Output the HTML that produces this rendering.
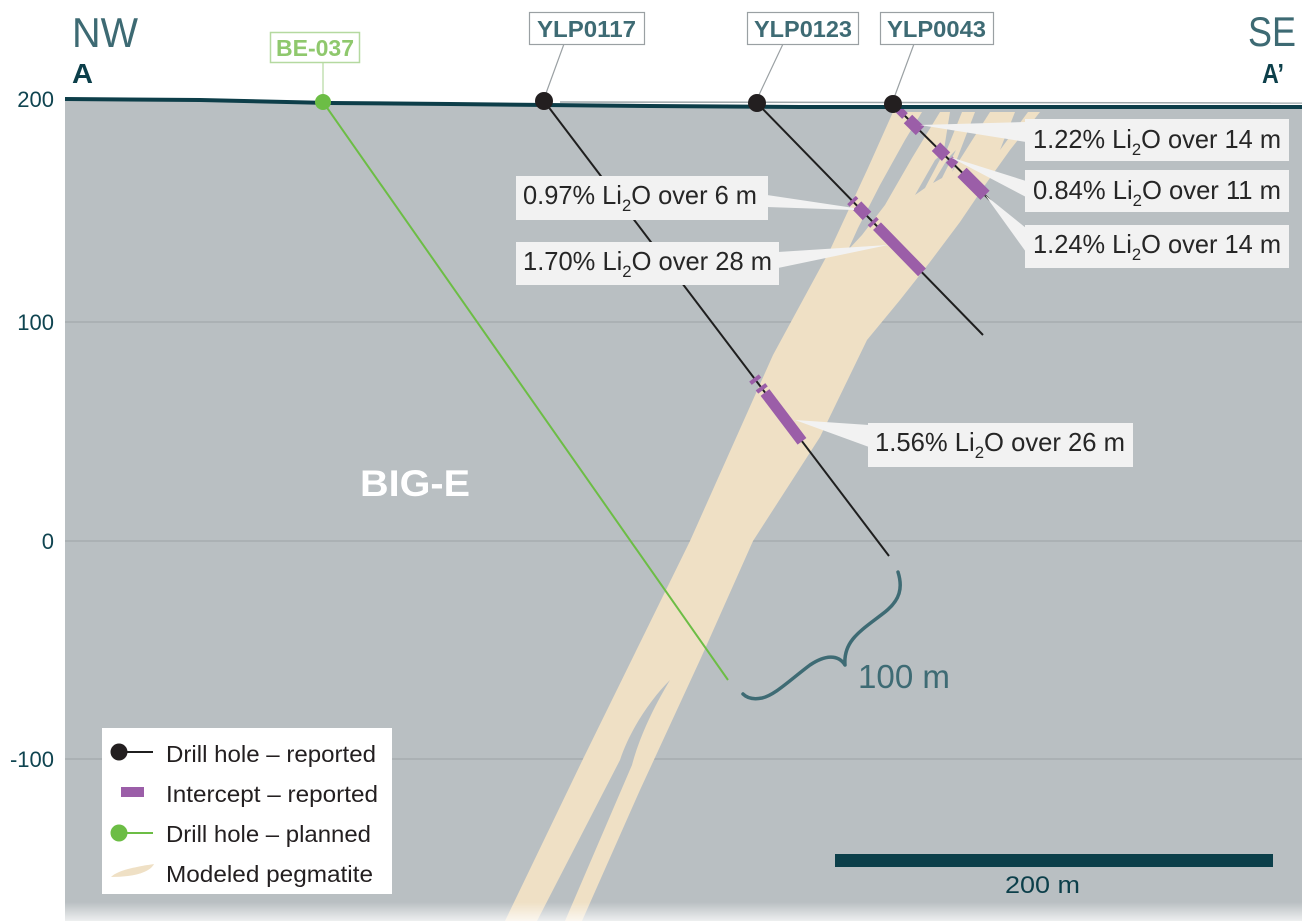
<!DOCTYPE html>
<html><head><meta charset="utf-8">
<style>
html,body{margin:0;padding:0;background:#fff;}
svg{display:block;}
text{font-family:"Liberation Sans",sans-serif;}
</style></head>
<body>
<svg width="1302" height="921" viewBox="0 0 1302 921" xmlns="http://www.w3.org/2000/svg">
<defs>
<linearGradient id="fade" gradientUnits="userSpaceOnUse" x1="0" y1="902" x2="0" y2="921">
<stop offset="0" stop-color="#ffffff" stop-opacity="0"/>
<stop offset="1" stop-color="#ffffff" stop-opacity="0.75"/>
</linearGradient>
</defs>
<rect width="1302" height="921" fill="#ffffff"/>
<path d="M65,99 L200,100 L330,103 L450,104 L650,106 L800,107 L1302,107 L1302,921 L65,921 Z" fill="#b9bfc2"/>
<g stroke="#a3a9ac" stroke-width="1.2">
<line x1="65" y1="322" x2="1302" y2="322"/>
<line x1="65" y1="541" x2="1302" y2="541"/>
<line x1="65" y1="759" x2="1302" y2="759"/>
</g>
<path d="M505,921 L583,759 L690,541 L773,355 L830,250 L868,168 L893,112 L1040,112 L1010,150 L985,185 L960,222 L930,262 L900,300 L867,340 L820,437 L753,541 L700,660 L640,790 L582,921 Z" fill="#efe0c5"/>
<g fill="#b9bfc2">
<path d="M670,680 C650,700 630,730 620,760 L537,921 L565,921 L632,765 C640,735 655,705 670,680 Z"/>
<path d="M848,250 L858,228 L880,185 L905,140 L922,112 L940,112 L912,158 L885,205 L862,235 Z"/>
<path d="M915,195 L935,160 L944,152 L925,188 Z"/>
<path d="M933,183 L948,158 L956,150 L942,178 Z"/>
<path d="M950,112 L962,112 L942,162 Z"/>
<path d="M975,112 L990,112 L952,172 Z"/>
<path d="M1015,112 L1028,112 L1000,150 Z"/>
</g>
<rect x="65" y="902" width="1237" height="19" fill="url(#fade)"/>
<line x1="323" y1="102" x2="728" y2="680" stroke="#6cbd45" stroke-width="2"/>
<g stroke="#1f1f1f" stroke-width="2">
<line x1="544" y1="101" x2="889" y2="556"/>
<line x1="757" y1="103" x2="983" y2="335"/>
<line x1="893" y1="104" x2="1022" y2="232"/>
</g>
<g stroke="#9b5ea8" stroke-linecap="butt">
<line x1="754" y1="378" x2="756.5" y2="381.3" stroke-width="12"/>
<line x1="760.5" y1="386.7" x2="763" y2="390" stroke-width="12"/>
<line x1="765" y1="392.5" x2="802" y2="441.3" stroke-width="11"/>
<line x1="851.5" y1="200" x2="854" y2="202.6" stroke-width="12"/>
<line x1="857" y1="205.6" x2="867" y2="215.9" stroke-width="12"/>
<line x1="872" y1="221" x2="874.5" y2="223.6" stroke-width="12"/>
<line x1="877" y1="226.2" x2="922" y2="272.4" stroke-width="11"/>
<line x1="898" y1="109" x2="905" y2="116" stroke-width="8"/>
<line x1="908" y1="119" x2="920" y2="130.8" stroke-width="12"/>
<line x1="936" y1="146.7" x2="946" y2="156.6" stroke-width="12"/>
<line x1="949" y1="159.6" x2="955" y2="165.5" stroke-width="9"/>
<line x1="962" y1="172.4" x2="985" y2="195.3" stroke-width="13"/>
</g>
<g fill="#f2f2f2">
<path d="M920,125 L1026,122 L1026,142 Z"/>
<path d="M950,157 L1026,181 L1026,197 Z"/>
<path d="M985,195 L1026,228 L1026,252 Z"/>
<path d="M767,195 L854,208 L854,210 L767,207 Z"/>
<path d="M778,252 L888,245 L778,268 Z"/>
<path d="M795,420 L869,425 L869,447 Z"/>
</g>
<g fill="#f2f2f2">
<rect x="1025" y="119" width="264" height="42"/>
<rect x="1025" y="170" width="264" height="42"/>
<rect x="1025" y="225" width="264" height="43"/>
<rect x="516" y="176" width="252" height="44"/>
<rect x="516" y="242" width="263" height="43"/>
<rect x="868" y="423" width="265" height="44"/>
</g>
<g font-size="26" fill="#262626">
<text x="1033" y="148" textLength="248" lengthAdjust="spacingAndGlyphs">1.22% Li<tspan font-size="17" dy="7">2</tspan><tspan dy="-7">O over 14 m</tspan></text>
<text x="1033" y="199" textLength="248" lengthAdjust="spacingAndGlyphs">0.84% Li<tspan font-size="17" dy="7">2</tspan><tspan dy="-7">O over 11 m</tspan></text>
<text x="1033" y="253" textLength="248" lengthAdjust="spacingAndGlyphs">1.24% Li<tspan font-size="17" dy="7">2</tspan><tspan dy="-7">O over 14 m</tspan></text>
<text x="523" y="204" textLength="234" lengthAdjust="spacingAndGlyphs">0.97% Li<tspan font-size="17" dy="7">2</tspan><tspan dy="-7">O over 6 m</tspan></text>
<text x="523" y="270" textLength="249" lengthAdjust="spacingAndGlyphs">1.70% Li<tspan font-size="17" dy="7">2</tspan><tspan dy="-7">O over 28 m</tspan></text>
<text x="875" y="451" textLength="250" lengthAdjust="spacingAndGlyphs">1.56% Li<tspan font-size="17" dy="7">2</tspan><tspan dy="-7">O over 26 m</tspan></text>
</g>
<path d="M560,102 C700,102 900,103 1302,103" fill="none" stroke="#9ea7aa" stroke-width="1.5"/>
<path d="M65,99 L200,100 L330,103 L450,104 L650,106 L800,107 L1302,107" fill="none" stroke="#0d3e49" stroke-width="4"/>
<path d="M311,62 L323,62 L323,96" fill="#fff" stroke="#b5d9a0" stroke-width="1.2"/>
<rect x="270.5" y="32.5" width="89" height="30" fill="#fff" stroke="#b5d9a0" stroke-width="1.5"/>
<text x="276" y="56" font-size="23" font-weight="bold" fill="#8fc86d" textLength="78" lengthAdjust="spacingAndGlyphs">BE-037</text>
<g fill="#fff" stroke="#9aa0a3" stroke-width="1.2">
<path d="M549,44 L564,44 L545,96"/>
<path d="M769,44 L783,44 L758,97"/>
<path d="M900,44 L914,44 L894,98"/>
<rect x="529.5" y="12.5" width="115" height="32"/>
<rect x="747.5" y="12.5" width="111" height="32"/>
<rect x="880.5" y="12.5" width="113" height="32"/>
</g>
<g font-size="23" font-weight="bold" fill="#3e6b74">
<text x="537" y="37" textLength="99" lengthAdjust="spacingAndGlyphs">YLP0117</text>
<text x="754" y="37" textLength="98" lengthAdjust="spacingAndGlyphs">YLP0123</text>
<text x="887" y="37" textLength="99" lengthAdjust="spacingAndGlyphs">YLP0043</text>
</g>
<circle cx="323" cy="102" r="8" fill="#6cbd45"/>
<g fill="#231f20">
<circle cx="544" cy="101" r="9"/>
<circle cx="757" cy="103" r="9"/>
<circle cx="893" cy="104" r="9"/>
</g>
<text x="72" y="47" font-size="42" fill="#3d6a73" textLength="66" lengthAdjust="spacingAndGlyphs">NW</text>
<text x="72" y="83" font-size="28" font-weight="bold" fill="#0c3f4a" textLength="21" lengthAdjust="spacingAndGlyphs">A</text>
<text x="1248" y="46" font-size="42" fill="#3d6a73" textLength="48" lengthAdjust="spacingAndGlyphs">SE</text>
<text x="1262" y="83" font-size="28" font-weight="bold" fill="#0c3f4a" textLength="22" lengthAdjust="spacingAndGlyphs">A’</text>
<g font-size="22" fill="#0f4450" text-anchor="end">
<text x="54" y="107">200</text>
<text x="54" y="330">100</text>
<text x="54" y="549">0</text>
<text x="54" y="767">-100</text>
</g>
<text x="360" y="496" font-size="37" font-weight="bold" fill="#ffffff" textLength="110" lengthAdjust="spacingAndGlyphs">BIG-E</text>
<path d="M898,572 C903,588 900,600 885,612 C862,630 843,640 845,665 C838,654 825,655 810,665 C790,680 775,695 762,698 C752,700 746,697 743,694" fill="none" stroke="#3e6b74" stroke-width="3.5" stroke-linecap="round" stroke-linejoin="round"/>
<text x="858" y="688" font-size="33" fill="#3e6b74" textLength="92" lengthAdjust="spacingAndGlyphs">100 m</text>
<rect x="102" y="728" width="290" height="166" fill="#ffffff"/>
<line x1="118" y1="752" x2="153" y2="752" stroke="#1f1f1f" stroke-width="2"/>
<circle cx="119" cy="752" r="8.5" fill="#231f20"/>
<rect x="121" y="787" width="23" height="10" fill="#9b5ea8"/>
<line x1="118" y1="833" x2="153" y2="833" stroke="#6cbd45" stroke-width="2"/>
<circle cx="119" cy="833" r="8.5" fill="#6cbd45"/>
<path d="M111,877 C118,870 135,867 154,864 C150,872 135,877 111,877 Z" fill="#efe0c5"/>
<g font-size="23" fill="#231f20">
<text x="166" y="762" textLength="210" lengthAdjust="spacingAndGlyphs">Drill hole – reported</text>
<text x="166" y="802" textLength="212" lengthAdjust="spacingAndGlyphs">Intercept – reported</text>
<text x="166" y="842" textLength="205" lengthAdjust="spacingAndGlyphs">Drill hole – planned</text>
<text x="166" y="882" textLength="207" lengthAdjust="spacingAndGlyphs">Modeled pegmatite</text>
</g>
<rect x="835" y="854" width="438" height="13" fill="#0c3f4a"/>
<text x="1005" y="893" font-size="24" fill="#0c3f4a" textLength="75" lengthAdjust="spacingAndGlyphs">200 m</text>
</svg>
</body></html>
